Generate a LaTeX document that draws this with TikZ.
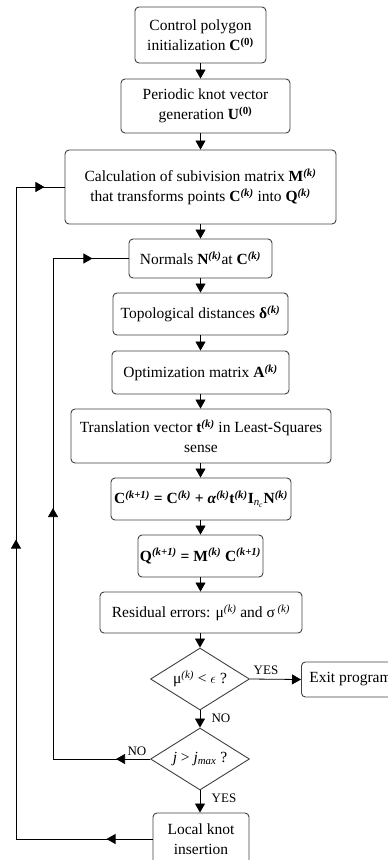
\documentclass[tikz,border=0pt]{standalone}
\usepackage{fontspec}
\setmainfont{Liberation Serif}
\usetikzlibrary{arrows.meta,shapes.geometric,decorations.markings}
\newcommand{\supk}{\textsuperscript{\textbf{\textit{(k)}}}}
\newcommand{\supkk}{\textsuperscript{\textbf{\textit{(k+1)}}}}
\newcommand{\supz}{\textsuperscript{\textbf{(0)}}}
\tikzset{tri/.tip={Triangle[length=9pt,width=10pt]}}
\begin{document}
\begin{tikzpicture}[x=1pt,y=-1pt,
  font=\fontsize{15.5}{20}\selectfont,
  box/.style={draw=black!75, line width=0.9pt, rounded corners=4pt, align=center, inner sep=0pt},
  dec/.style={draw=black!75, line width=0.9pt, diamond, aspect=1.6, minimum width=99pt, minimum height=62pt, inner sep=0pt},
  conn/.style={line width=0.8pt, -{tri}},
  loopline/.style={line width=0.8pt, postaction={decorate}},
  lab/.style={font=\fontsize{13}{14}\selectfont, inner sep=0pt}]
\useasboundingbox (0,0) rectangle (388,860);

\node[box, minimum width=131pt, minimum height=56pt] (c1) at (200.5,35) {Control polygon\\initialization \textbf{C}\supz};
\node[box, minimum width=169pt, minimum height=54pt] (c2) at (205.5,106) {Periodic knot vector\\generation \textbf{U}\supz};
\node[box, minimum width=271pt, minimum height=74pt] (c3) at (200.5,187) {Calculation of subivision matrix \textbf{M}\supk\\that transforms points \textbf{C}\supk{} into \textbf{Q}\supk};
\node[box, minimum width=143pt, minimum height=39pt] (norm) at (200.5,258.5) {Normals \textbf{N}\supk at \textbf{C}\supk};
\node[box, minimum width=175pt, minimum height=42pt] (topo) at (200.5,314) {Topological distances \textbf{δ}\supk};
\node[box, minimum width=177pt, minimum height=43pt] (opt) at (200.5,372.5) {Optimization matrix \textbf{A}\supk};
\node[box, minimum width=260pt, minimum height=54pt] (trans) at (201,436) {Translation vector \textbf{t}\supk{} in Least-Squares\\sense};
\node[box, minimum width=180pt, minimum height=42pt] (ceq) at (201,499) {\textbf{C}\supkk{} \textbf{=} \textbf{C}\supk{} \textbf{+} \textbf{\textit{α}}\supk\textbf{t}\supk\textbf{I}\textsubscript{\textit{n}\textsubscript{\textit{c}}}\textbf{N}\supk};
\node[box, minimum width=125pt, minimum height=42pt] (qeq) at (200.5,556) {\textbf{Q}\supkk{} \textbf{=} \textbf{M}\supk{} \textbf{C}\supkk};
\node[box, minimum width=202pt, minimum height=41pt] (res) at (201,612.5) {Residual errors: μ\textsuperscript{\textit{(k)}} and σ\,\textsuperscript{\textit{(k)}}};
\node[dec] (d1) at (200,679) {μ\textsuperscript{\textit{(k)}} < $\epsilon$ ?};
\node[dec] (d2) at (200,759) {\textit{j} > \textit{j}\textsubscript{\textit{max}} ?};
\node[box, minimum width=96pt, minimum height=52pt] (knot) at (201,839) {Local knot\\insertion};
\node[box, anchor=west, minimum height=35pt, inner xsep=8pt] (exit) at (301,679.5) {Exit program};

\draw[conn] (c1.south) -- (c1.south |- c2.north);
\draw[conn] (c1.south |- c2.south) -- (c1.south |- c3.north);
\draw[conn] (c3.south) -- (c3.south |- norm.north);
\draw[conn] (norm.south) -- (norm.south |- topo.north);
\draw[conn] (topo.south) -- (topo.south |- opt.north);
\draw[conn] (opt.south) -- (opt.south |- trans.north);
\draw[conn] (opt.south |- trans.south) -- (opt.south |- ceq.north);
\draw[conn] (opt.south |- ceq.south) -- (opt.south |- qeq.north);
\draw[conn] (qeq.south) -- (qeq.south |- res.north);
\draw[conn] (d1.north |- res.south) -- (d1.north);
\draw[conn] (d1.south) -- (d2.north);
\draw[conn] (d2.south) -- (d2.south |- knot.north);
\draw[conn] (d1.east) -- (exit.west);

\coordinate (ib) at (53,759);
\coordinate (it) at (53,258.5);
\draw[loopline, decoration={markings,
   mark=at position 34pt with {\arrow{tri}},
   mark=at position 348pt with {\arrow{tri}},
   mark=at position 637pt with {\arrow{tri}}}]
   (d2.west) -- (ib) -- (it) -- (norm.west);

\coordinate (ob) at (16,839);
\coordinate (ot) at (16,187);
\draw[loopline, decoration={markings,
   mark=at position 46pt with {\arrow{tri}},
   mark=at position 436pt with {\arrow{tri}},
   mark=at position 817pt with {\arrow{tri}}}]
   (knot.west) -- (ob) -- (ot) -- (c3.west);

\node[lab] (yes1) at (266,670) {YES};
\node[lab] (no1) at (221,718) {NO};
\node[lab] (no2) at (137,751) {NO};
\node[lab] (yes2) at (224,798) {YES};
\end{tikzpicture}
\end{document}
